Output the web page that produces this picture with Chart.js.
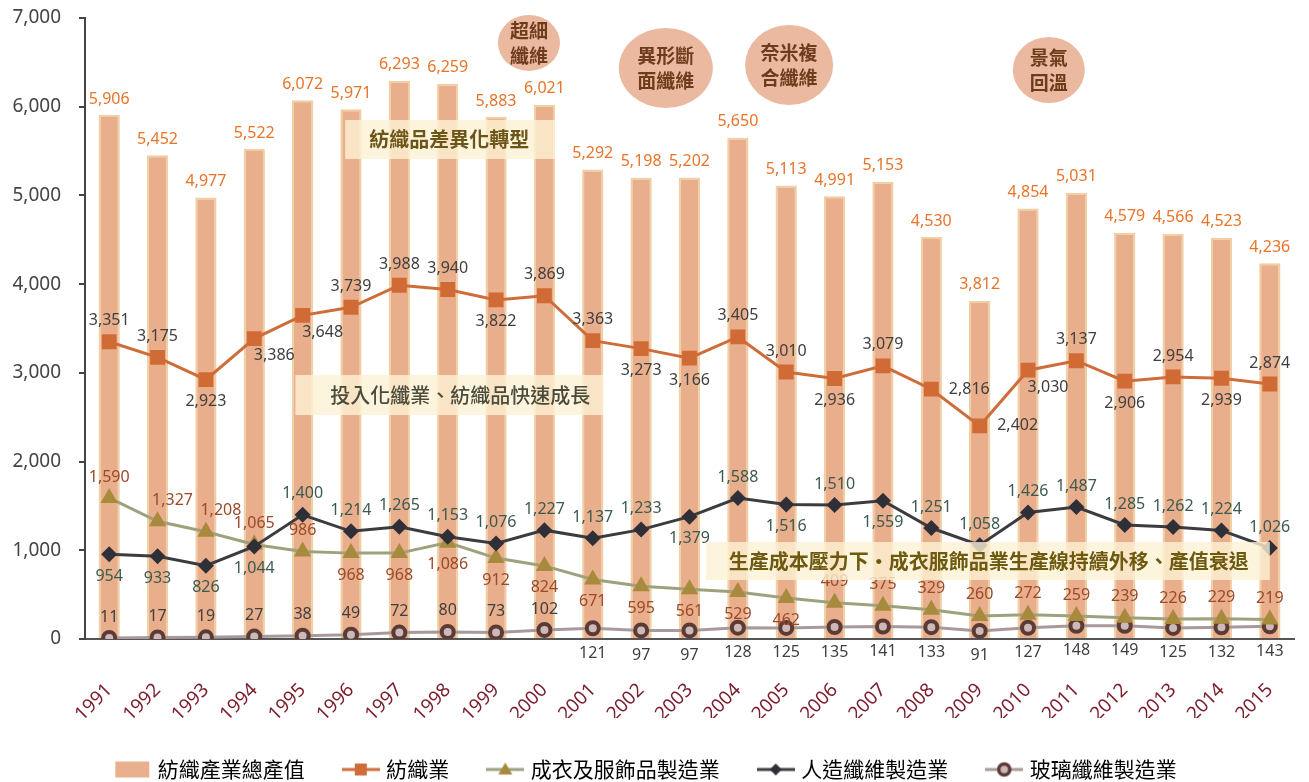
<!DOCTYPE html>
<html>
<head>
<meta charset="utf-8">
<script src="https://cdn.jsdelivr.net/npm/chart.js@4.4.1/dist/chart.umd.min.js"></script>
<style>
  html, body { margin: 0; padding: 0; background: #fff; }
</style>
</head>
<body>
<canvas id="chart" width="1309" height="782"></canvas>
<script>
const years = ['1991','1992','1993','1994','1995','1996','1997','1998','1999','2000','2001','2002','2003',
  '2004','2005','2006','2007','2008','2009','2010','2011','2012','2013','2014','2015'];
const totalOutput = [5906,5452,4977,5522,6072,5971,6293,6259,5883,6021,5292,5198,5202,5650,5113,4991,5153,4530,3812,4854,5031,4579,4566,4523,4236];
const textile = [3351,3175,2923,3386,3648,3739,3988,3940,3822,3869,3363,3273,3166,3405,3010,2936,3079,2816,2402,3030,3137,2906,2954,2939,2874];
const apparel = [1590,1327,1208,1065,986,968,968,1086,912,824,671,595,561,529,462,409,375,329,260,272,259,239,226,229,219];
const synthetic = [954,933,826,1044,1400,1214,1265,1153,1076,1227,1137,1233,1379,1588,1516,1510,1559,1251,1058,1426,1487,1285,1262,1224,1026];
const glass = [11,17,19,27,38,49,72,80,73,102,121,97,97,128,125,135,141,133,91,127,148,149,125,132,143];
const seriesNames = ['紡織產業總產值', '紡織業', '成衣及服飾品製造業', '人造纖維製造業', '玻璃纖維製造業'];

// where each value label sits relative to its point
const textilePos = 'a a b br br a a a b a a b b a a b a r r br a b a b a'.split(' ');
const apparelPos = 'a ar ar a a b b b b b b b b b b a a a a a a a a a a'.split(' ');
const syntheticPos = 'b b b b a a a a a a a a b a b a b a a a a a a a a'.split(' ');
const glassPos = 'a a a a a a a a a a bb bb bb bb bb bb bb bb bb bb bb bb bb bb bb'.split(' ');
const OFFS = { a: [0, -21], b: [0, 22], br: [20, 17], r: [38, 0], ar: [15, -21], bb: [0, 25], top: [0, -16] };

// annotations in category index / value units
const bubbles = [
  { lines: ['超細', '纖維'], i: 8.68, v: 6719, rx: 31, ry: 28 },
  { lines: ['異形斷', '面纖維'], i: 11.51, v: 6437, rx: 47, ry: 40 },
  { lines: ['奈米複', '合纖維'], i: 14.06, v: 6470, rx: 44, ry: 40 },
  { lines: ['景氣', '回溫'], i: 19.43, v: 6414, rx: 36, ry: 33 }
];
const notes = [
  { text: '紡織品差異化轉型', i0: 4.88, i1: 9.22, vTop: 5851, vBot: 5411, ti: 7.03, color: '#6b5518', weight: 'bold' },
  { text: '投入化纖業、紡織品快速成長', i0: 3.85, i1: 10.21, vTop: 2976, vBot: 2525, ti: 7.26, color: '#4b4b3b', weight: '500' },
  { text: '生產成本壓力下・成衣服飾品業生產線持續外移、產值衰退', i0: 12.34, i1: 24.0, vTop: 1093, vBot: 665, ti: 18.19, color: '#6d5a0e', weight: 'bold' }
];

const NUM_FONT = "'Noto Sans', 'DejaVu Sans', sans-serif";
const CJK_FONT = "'Noto Sans CJK TC', 'Noto Sans', sans-serif";

function icon(draw) {
  const c = document.createElement('canvas');
  c.width = 38; c.height = 20;
  const g = c.getContext('2d');
  draw(g);
  return c;
}
function iconLine(g, color) {
  g.strokeStyle = color; g.lineWidth = 3;
  g.beginPath(); g.moveTo(0, 10); g.lineTo(38, 10); g.stroke();
}
const legendIcons = [
  icon(g => { g.fillStyle = '#e9b08e'; g.fillRect(2, 2, 34, 16); }),
  icon(g => { iconLine(g, '#cf6d3a'); g.fillStyle = '#cf6d3a'; g.fillRect(13, 4, 12, 12); }),
  icon(g => { iconLine(g, '#9ea27c'); g.fillStyle = '#a88a3d';
    g.beginPath(); g.moveTo(19, 3); g.lineTo(26, 15); g.lineTo(12, 15); g.closePath(); g.fill(); }),
  icon(g => { iconLine(g, '#3b3b42'); g.fillStyle = '#2f2f38';
    g.beginPath(); g.moveTo(19, 4); g.lineTo(25, 10); g.lineTo(19, 16); g.lineTo(13, 10); g.closePath(); g.fill(); }),
  icon(g => { iconLine(g, '#a89a9a'); g.fillStyle = '#cfb8b8'; g.strokeStyle = '#5b3b35'; g.lineWidth = 3.5;
    g.beginPath(); g.arc(19, 10, 5.5, 0, Math.PI * 2); g.fill(); g.stroke(); })
];

const labelPlugin = {
  id: 'labelsAndNotes',
  afterDatasetsDraw(chart) {
    const ctx = chart.ctx;
    const xs = chart.scales.x, ys = chart.scales.y;
    ctx.save();
    ctx.textAlign = 'center';
    ctx.textBaseline = 'middle';
    ctx.font = '16px ' + NUM_FONT;
    chart.data.datasets.forEach((ds, di) => {
      const meta = chart.getDatasetMeta(di);
      meta.data.forEach((el, j) => {
        const o = OFFS[ds.labelPos[j]];
        ctx.fillStyle = ds.labelColor;
        ctx.fillText(ds.data[j].toLocaleString('en-US'), el.x + o[0], el.y + o[1]);
      });
    });

    // translucent note boxes (drawn over the series)
    notes.forEach(n => {
      const x0 = xs.getPixelForValue(n.i0), x1 = xs.getPixelForValue(n.i1);
      const y0 = ys.getPixelForValue(n.vTop), y1 = ys.getPixelForValue(n.vBot);
      ctx.fillStyle = 'rgba(253,241,212,0.8)';
      ctx.fillRect(x0, y0, x1 - x0, y1 - y0);
      ctx.fillStyle = n.color;
      ctx.font = n.weight + ' 20px ' + CJK_FONT;
      ctx.fillText(n.text, xs.getPixelForValue(n.ti), (y0 + y1) / 2);
    });

    bubbles.forEach(b => {
      const cx = xs.getPixelForValue(b.i), cy = ys.getPixelForValue(b.v);
      ctx.fillStyle = '#ebb8a0';
      ctx.beginPath();
      ctx.ellipse(cx, cy, b.rx, b.ry, 0, 0, Math.PI * 2);
      ctx.fill();
      ctx.fillStyle = '#6e3c1c';
      ctx.font = 'bold 19px ' + CJK_FONT;
      ctx.fillText(b.lines[0], cx, cy - 12.5);
      ctx.fillText(b.lines[1], cx, cy + 12.5);
    });
    ctx.restore();
  }
};

new Chart(document.getElementById('chart'), {
  data: {
    labels: years,
    datasets: [
      { type: 'bar', label: seriesNames[0], data: totalOutput, order: 10,
        backgroundColor: '#e9ae8c', borderColor: '#f0d0a2', borderWidth: 2, borderSkipped: 'start',
        barPercentage: 0.44, categoryPercentage: 1,
        labelColor: '#e8742a', labelPos: totalOutput.map(() => 'top') },
      { type: 'line', label: seriesNames[1], data: textile, order: 1,
        borderColor: '#cf6d3a', borderWidth: 3, pointStyle: 'rect', pointRadius: 10.5,
        pointBackgroundColor: '#d06b35', pointBorderWidth: 0,
        labelColor: '#3f3f3f', labelPos: textilePos },
      { type: 'line', label: seriesNames[2], data: apparel, order: 3,
        borderColor: '#9ea27c', borderWidth: 3, pointStyle: 'triangle', pointRadius: 10,
        pointBackgroundColor: '#a88a3d', pointBorderWidth: 0,
        labelColor: '#9a4a2a', labelPos: apparelPos },
      { type: 'line', label: seriesNames[3], data: synthetic, order: 2,
        borderColor: '#3b3b42', borderWidth: 3, pointStyle: 'rectRot', pointRadius: 8,
        pointBackgroundColor: '#2f2f38', pointBorderWidth: 0,
        labelColor: '#3b5a50', labelPos: syntheticPos },
      { type: 'line', label: seriesNames[4], data: glass, order: 4,
        borderColor: '#a89a9a', borderWidth: 3, pointStyle: 'circle', pointRadius: 6,
        pointBackgroundColor: '#cfb8b8', pointBorderColor: '#5b3b35', pointBorderWidth: 4,
        labelColor: '#3f3f3f', labelPos: glassPos }
    ]
  },
  options: {
    responsive: false,
    animation: false,
    layout: { padding: { top: 18, right: 15, left: 0, bottom: -8 } },
    plugins: {
      tooltip: { enabled: false },
      legend: {
        position: 'bottom',
        labels: {
          usePointStyle: true,
          pointStyleWidth: 30,
          padding: 41,
          color: '#666',
          font: { size: 21, family: CJK_FONT },
          generateLabels: chart => chart.data.datasets.map((ds, i) => ({
            text: ds.label, pointStyle: legendIcons[i], datasetIndex: i,
            fillStyle: 'transparent', strokeStyle: 'transparent', lineWidth: 0, hidden: false
          }))
        }
      }
    },
    scales: {
      x: {
        offset: true,
        grid: { display: false, drawTicks: false },
        border: { display: true, color: '#555', width: 2 },
        ticks: { autoSkip: false, minRotation: 45, maxRotation: 45, padding: 40,
          color: '#7b1c2c', font: { size: 19, family: NUM_FONT } },
        afterFit: s => { s.height = 79; s.paddingRight = 0; s.paddingLeft = 0; }
      },
      y: {
        min: 0, max: 7000,
        grid: { display: true, drawOnChartArea: false, drawTicks: true, tickLength: 6, color: '#444', lineWidth: 2 },
        border: { display: true, color: '#444', width: 2 },
        ticks: { stepSize: 1000, padding: 18, color: '#444', font: { size: 19, family: NUM_FONT } ,
          callback: v => v.toLocaleString('en-US') },
        afterFit: s => { s.width = 85; s.paddingTop = 12; s.paddingBottom = 12; }
      }
    }
  },
  plugins: [labelPlugin]
});
</script>
</body>
</html>
